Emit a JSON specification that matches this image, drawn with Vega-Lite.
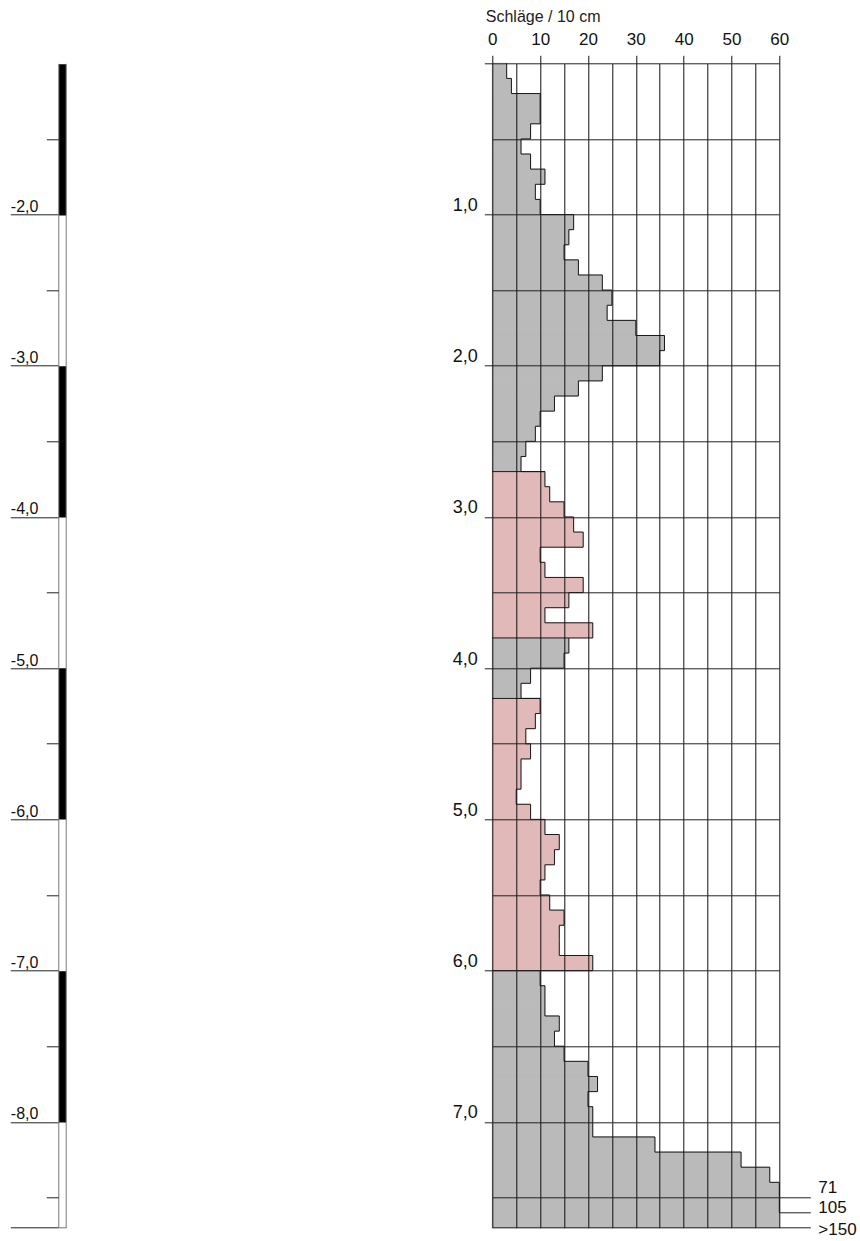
{
  "$schema": "https://vega.github.io/schema/vega-lite/v6.json",
  "background": "white",
  "autosize": {"type": "none"},
  "padding": {"left": 492.3, "top": 63.3, "right": 80.7, "bottom": 13.3},
  "width": 287,
  "height": 1164.4,
  "config": {
    "font": "Liberation Sans",
    "view": {"stroke": null},
    "locale": {"number": {"decimal": ",", "thousands": ".", "grouping": [3], "currency": ["", " €"], "minus": "-"}}
  },
  "datasets": {
    "hoehe": [
      {"von": -1.0, "bis": -2.0, "farbe": "schwarz"},
      {"von": -2.0, "bis": -3.0, "farbe": "weiss"},
      {"von": -3.0, "bis": -4.0, "farbe": "schwarz"},
      {"von": -4.0, "bis": -5.0, "farbe": "weiss"},
      {"von": -5.0, "bis": -6.0, "farbe": "schwarz"},
      {"von": -6.0, "bis": -7.0, "farbe": "weiss"},
      {"von": -7.0, "bis": -8.0, "farbe": "schwarz"},
      {"von": -8.0, "bis": -8.7, "farbe": "weiss"}
    ],
    "sondierung": [
      {"von": 0.0, "bis": 0.1, "schlaege": 3, "schicht": "grau"},
      {"von": 0.1, "bis": 0.2, "schlaege": 4, "schicht": "grau"},
      {"von": 0.2, "bis": 0.3, "schlaege": 10, "schicht": "grau"},
      {"von": 0.3, "bis": 0.4, "schlaege": 10, "schicht": "grau"},
      {"von": 0.4, "bis": 0.5, "schlaege": 8, "schicht": "grau"},
      {"von": 0.5, "bis": 0.6, "schlaege": 6, "schicht": "grau"},
      {"von": 0.6, "bis": 0.7, "schlaege": 8, "schicht": "grau"},
      {"von": 0.7, "bis": 0.8, "schlaege": 11, "schicht": "grau"},
      {"von": 0.8, "bis": 0.9, "schlaege": 9, "schicht": "grau"},
      {"von": 0.9, "bis": 1.0, "schlaege": 10, "schicht": "grau"},
      {"von": 1.0, "bis": 1.1, "schlaege": 17, "schicht": "grau"},
      {"von": 1.1, "bis": 1.2, "schlaege": 16, "schicht": "grau"},
      {"von": 1.2, "bis": 1.3, "schlaege": 15, "schicht": "grau"},
      {"von": 1.3, "bis": 1.4, "schlaege": 18, "schicht": "grau"},
      {"von": 1.4, "bis": 1.5, "schlaege": 23, "schicht": "grau"},
      {"von": 1.5, "bis": 1.6, "schlaege": 25, "schicht": "grau"},
      {"von": 1.6, "bis": 1.7, "schlaege": 24, "schicht": "grau"},
      {"von": 1.7, "bis": 1.8, "schlaege": 30, "schicht": "grau"},
      {"von": 1.8, "bis": 1.9, "schlaege": 36, "schicht": "grau"},
      {"von": 1.9, "bis": 2.0, "schlaege": 35, "schicht": "grau"},
      {"von": 2.0, "bis": 2.1, "schlaege": 23, "schicht": "grau"},
      {"von": 2.1, "bis": 2.2, "schlaege": 18, "schicht": "grau"},
      {"von": 2.2, "bis": 2.3, "schlaege": 13, "schicht": "grau"},
      {"von": 2.3, "bis": 2.4, "schlaege": 10, "schicht": "grau"},
      {"von": 2.4, "bis": 2.5, "schlaege": 9, "schicht": "grau"},
      {"von": 2.5, "bis": 2.6, "schlaege": 7, "schicht": "grau"},
      {"von": 2.6, "bis": 2.7, "schlaege": 6, "schicht": "grau"},
      {"von": 2.7, "bis": 2.8, "schlaege": 11, "schicht": "rot"},
      {"von": 2.8, "bis": 2.9, "schlaege": 12, "schicht": "rot"},
      {"von": 2.9, "bis": 3.0, "schlaege": 15, "schicht": "rot"},
      {"von": 3.0, "bis": 3.1, "schlaege": 17, "schicht": "rot"},
      {"von": 3.1, "bis": 3.2, "schlaege": 19, "schicht": "rot"},
      {"von": 3.2, "bis": 3.3, "schlaege": 10, "schicht": "rot"},
      {"von": 3.3, "bis": 3.4, "schlaege": 11, "schicht": "rot"},
      {"von": 3.4, "bis": 3.5, "schlaege": 19, "schicht": "rot"},
      {"von": 3.5, "bis": 3.6, "schlaege": 16, "schicht": "rot"},
      {"von": 3.6, "bis": 3.7, "schlaege": 11, "schicht": "rot"},
      {"von": 3.7, "bis": 3.8, "schlaege": 21, "schicht": "rot"},
      {"von": 3.8, "bis": 3.9, "schlaege": 16, "schicht": "grau"},
      {"von": 3.9, "bis": 4.0, "schlaege": 15, "schicht": "grau"},
      {"von": 4.0, "bis": 4.1, "schlaege": 8, "schicht": "grau"},
      {"von": 4.1, "bis": 4.2, "schlaege": 6, "schicht": "grau"},
      {"von": 4.2, "bis": 4.3, "schlaege": 10, "schicht": "rot"},
      {"von": 4.3, "bis": 4.4, "schlaege": 9, "schicht": "rot"},
      {"von": 4.4, "bis": 4.5, "schlaege": 7, "schicht": "rot"},
      {"von": 4.5, "bis": 4.6, "schlaege": 8, "schicht": "rot"},
      {"von": 4.6, "bis": 4.7, "schlaege": 6, "schicht": "rot"},
      {"von": 4.7, "bis": 4.8, "schlaege": 6, "schicht": "rot"},
      {"von": 4.8, "bis": 4.9, "schlaege": 5, "schicht": "rot"},
      {"von": 4.9, "bis": 5.0, "schlaege": 8, "schicht": "rot"},
      {"von": 5.0, "bis": 5.1, "schlaege": 11, "schicht": "rot"},
      {"von": 5.1, "bis": 5.2, "schlaege": 14, "schicht": "rot"},
      {"von": 5.2, "bis": 5.3, "schlaege": 13, "schicht": "rot"},
      {"von": 5.3, "bis": 5.4, "schlaege": 11, "schicht": "rot"},
      {"von": 5.4, "bis": 5.5, "schlaege": 10, "schicht": "rot"},
      {"von": 5.5, "bis": 5.6, "schlaege": 12, "schicht": "rot"},
      {"von": 5.6, "bis": 5.7, "schlaege": 15, "schicht": "rot"},
      {"von": 5.7, "bis": 5.8, "schlaege": 14, "schicht": "rot"},
      {"von": 5.8, "bis": 5.9, "schlaege": 14, "schicht": "rot"},
      {"von": 5.9, "bis": 6.0, "schlaege": 21, "schicht": "rot"},
      {"von": 6.0, "bis": 6.1, "schlaege": 10, "schicht": "grau"},
      {"von": 6.1, "bis": 6.2, "schlaege": 11, "schicht": "grau"},
      {"von": 6.2, "bis": 6.3, "schlaege": 11, "schicht": "grau"},
      {"von": 6.3, "bis": 6.4, "schlaege": 14, "schicht": "grau"},
      {"von": 6.4, "bis": 6.5, "schlaege": 13, "schicht": "grau"},
      {"von": 6.5, "bis": 6.6, "schlaege": 15, "schicht": "grau"},
      {"von": 6.6, "bis": 6.7, "schlaege": 20, "schicht": "grau"},
      {"von": 6.7, "bis": 6.8, "schlaege": 22, "schicht": "grau"},
      {"von": 6.8, "bis": 6.9, "schlaege": 20, "schicht": "grau"},
      {"von": 6.9, "bis": 7.0, "schlaege": 21, "schicht": "grau"},
      {"von": 7.0, "bis": 7.1, "schlaege": 21, "schicht": "grau"},
      {"von": 7.1, "bis": 7.2, "schlaege": 34, "schicht": "grau"},
      {"von": 7.2, "bis": 7.3, "schlaege": 52, "schicht": "grau"},
      {"von": 7.3, "bis": 7.4, "schlaege": 58, "schicht": "grau"},
      {"von": 7.4, "bis": 7.5, "schlaege": 71, "schicht": "grau", "angabe": "71"},
      {"von": 7.5, "bis": 7.6, "schlaege": 105, "schicht": "grau", "angabe": "105"},
      {"von": 7.6, "bis": 7.7, "schlaege": 151, "schicht": "grau", "angabe": ">150"}
    ]
  },
  "resolve": {"scale": {"y": "independent"}, "axis": {"y": "independent"}},
  "layer": [
    {
      "data": {"name": "sondierung"},
      "resolve": {"axis": {"x": "independent", "y": "independent"}},
      "layer": [
        {
          "mark": {"type": "rect", "strokeWidth": 1},
          "encoding": {
            "x": {
              "field": "schlaege", "type": "quantitative",
              "scale": {"domain": [0, 60], "clamp": true, "nice": false},
              "axis": {
                "orient": "top", "zindex": 1,
                "values": [0, 5, 10, 15, 20, 25, 30, 35, 40, 45, 50, 55, 60],
                "labelExpr": "datum.value % 10 === 0 ? datum.label : ''",
                "format": "d",
                "domain": false, "labelFlush": false, "labelOverlap": false,
                "grid": true, "gridColor": "#111111", "gridWidth": 1,
                "tickSize": 8, "tickColor": "#111111",
                "tickOpacity": {"condition": {"test": "datum.value % 10 !== 0", "value": 0}, "value": 1},
                "labelPadding": 11, "labelBaseline": "alphabetic", "labelFontSize": 17, "labelColor": "#111",
                "title": "Schläge / 10 cm", "titleFontSize": 16, "titleFontWeight": "normal", "titleColor": "#222",
                "titleAlign": "left", "titleBaseline": "alphabetic", "titleX": -7, "titleY": -42
              }
            },
            "x2": {"datum": 0},
            "y": {
              "field": "von", "type": "quantitative",
              "scale": {"domain": [0, 7.7], "reverse": true, "nice": false, "zero": false},
              "axis": {
                "orient": "left", "zindex": 1, "title": null, "domain": false,
                "values": [0, 0.5, 1, 1.5, 2, 2.5, 3, 3.5, 4, 4.5, 5, 5.5, 6, 6.5, 7, 7.5, 7.7],
                "format": ".1f", "labelOverlap": false,
                "labelExpr": "(datum.value % 1 === 0 && datum.value > 0) ? datum.label : ''",
                "grid": true, "gridColor": "#222222", "gridWidth": 1,
                "tickSize": 8, "tickColor": "#222222",
                "tickOpacity": {"condition": {"test": "datum.value % 1 !== 0", "value": 0}, "value": 1},
                "labelPadding": 7, "labelBaseline": "alphabetic", "labelOffset": -4,
                "labelFontSize": 18, "labelColor": "#111"
              }
            },
            "y2": {"field": "bis"},
            "fill": {"field": "schicht", "type": "nominal", "scale": {"domain": ["grau", "rot"], "range": ["#bababa", "#e2b9b9"]}, "legend": null},
            "stroke": {"field": "schicht", "type": "nominal", "scale": {"domain": ["grau", "rot"], "range": ["#bababa", "#e2b9b9"]}, "legend": null}
          }
        },
        {
          "mark": {"type": "line", "interpolate": "step-before", "color": "#1a1a1a", "strokeWidth": 1},
          "encoding": {
            "x": {"field": "schlaege", "type": "quantitative", "axis": null},
            "y": {"field": "von", "type": "quantitative", "axis": null},
            "order": {"field": "von", "type": "quantitative"}
          }
        },
        {
          "transform": [
            {"window": [{"op": "lag", "field": "schicht", "as": "vorher"}], "sort": [{"field": "von", "order": "ascending"}]},
            {"filter": "datum.vorher != null && datum.vorher !== datum.schicht"}
          ],
          "mark": {"type": "rule", "color": "#1a1a1a", "strokeWidth": 1},
          "encoding": {
            "x": {"field": "schlaege", "type": "quantitative", "axis": null},
            "x2": {"datum": 0},
            "y": {"field": "von", "type": "quantitative", "axis": null}
          }
        },
        {
          "transform": [{"filter": "datum.angabe === '71'"}],
          "mark": {"type": "text", "align": "left", "baseline": "alphabetic", "dx": 39, "dy": 10.5, "fontSize": 17, "color": "#111"},
          "encoding": {
            "x": {"field": "schlaege", "type": "quantitative", "axis": null},
            "y": {
              "field": "von", "type": "quantitative",
              "axis": {
                "orient": "right", "title": null, "domain": false, "grid": false, "labels": false,
                "values": [7.5, 7.6, 7.7], "tickSize": 31, "tickColor": "#222222"
              }
            },
            "text": {"field": "angabe"}
          }
        },
        {
          "transform": [{"filter": "datum.angabe === '105'"}],
          "mark": {"type": "text", "align": "left", "baseline": "alphabetic", "dx": 39, "dy": 16, "fontSize": 17, "color": "#111"},
          "encoding": {
            "x": {"field": "schlaege", "type": "quantitative", "axis": null},
            "y": {"field": "von", "type": "quantitative", "axis": null},
            "text": {"field": "angabe"}
          }
        },
        {
          "transform": [{"filter": "datum.angabe === '>150'"}],
          "mark": {"type": "text", "align": "left", "baseline": "alphabetic", "dx": 39, "dy": 22.6, "fontSize": 17, "color": "#111"},
          "encoding": {
            "x": {"field": "schlaege", "type": "quantitative", "axis": null},
            "y": {"field": "von", "type": "quantitative", "axis": null},
            "text": {"field": "angabe"}
          }
        }
      ]
    },
    {
      "data": {"name": "hoehe"},
      "resolve": {"axis": {"y": "independent"}},
      "layer": [
        {
          "mark": {"type": "rule", "strokeOpacity": 0},
          "encoding": {
            "y": {
              "field": "von", "type": "quantitative",
              "scale": {"domain": [-8.7, -1.0], "nice": false, "zero": false},
              "axis": {
                "orient": "left", "offset": 426.6, "title": null, "grid": false, "labels": false,
                "values": [-1.5, -3.5, -5.5, -7.5],
                "tickSize": 7.4, "tickWidth": 151.2, "tickColor": "#000000", "tickCap": "butt",
                "domain": true, "domainColor": "#777777", "domainWidth": 1
              }
            }
          }
        },
        {
          "mark": {"type": "rule", "strokeOpacity": 0},
          "encoding": {
            "y": {
              "field": "bis", "type": "quantitative",
              "axis": {
                "orient": "left", "offset": 434, "title": null, "grid": false,
                "values": [-2, -3, -4, -5, -6, -7, -8, -8.7],
                "format": ".1f", "labelOverlap": false,
                "labelExpr": "datum.value < -8.6 ? '' : datum.label",
                "tickSize": 48, "tickColor": "#222222", "tickWidth": 1,
                "labelAlign": "left", "labelPadding": 0, "labelBaseline": "alphabetic", "labelOffset": -3,
                "labelFontSize": 16, "labelColor": "#111",
                "domain": true, "domainColor": "#777777", "domainWidth": 1
              }
            }
          }
        },
        {
          "mark": {"type": "rule", "strokeOpacity": 0},
          "encoding": {
            "y": {
              "field": "von", "type": "quantitative",
              "axis": {
                "orient": "left", "offset": 434, "title": null, "grid": false, "labels": false, "domain": false,
                "values": [-1.5, -2.5, -3.5, -4.5, -5.5, -6.5, -7.5, -8.5],
                "tickSize": 12, "tickColor": "#222222", "tickWidth": 1
              }
            }
          }
        },
        {
          "mark": {"type": "rule", "strokeOpacity": 0},
          "encoding": {
            "y": {
              "field": "bis", "type": "quantitative",
              "axis": {
                "orient": "left", "offset": 426.6, "title": null, "grid": false, "labels": false, "domain": false,
                "values": [-8.7],
                "tickSize": 7.4, "tickColor": "#777777", "tickWidth": 1
              }
            }
          }
        }
      ]
    }
  ]
}
